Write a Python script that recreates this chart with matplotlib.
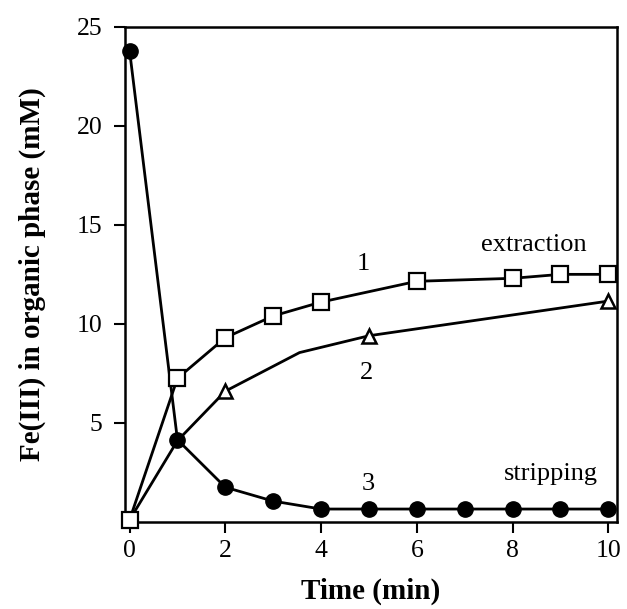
import matplotlib
matplotlib.use("Agg")
import matplotlib.pyplot as plt

# curve 1: extraction (open squares)
time_1 = [0, 1, 2, 3, 4, 6, 8, 9, 10]
fe_1 = [0.1, 7.25, 9.3, 10.4, 11.1, 12.15, 12.3, 12.5, 12.5]

# curve 2: extraction (open triangles), markers only on some points
time_2 = [0, 1, 2, 3.55, 5, 10]
fe_2 = [0.1, 4.1, 6.6, 8.55, 9.4, 11.15]
marked_2 = [2, 4, 5]

# curve 3: stripping (filled circles)
time_3 = [0, 1, 2, 3, 4, 5, 6, 7, 8, 9, 10]
fe_3 = [23.8, 4.15, 1.75, 1.05, 0.65, 0.65, 0.65, 0.65, 0.65, 0.65, 0.65]

x_ticks = [0, 2, 4, 6, 8, 10]
y_ticks = [5, 10, 15, 20, 25]

plt.rcParams['font.family'] = ['Liberation Serif', 'DejaVu Serif']

fig = plt.figure(figsize=(6.27, 6.09), dpi=100)
ax = fig.add_axes([0.199, 0.143, 0.785, 0.813])

ax.plot(time_3, fe_3, color='black', lw=2, marker='o', markersize=11,
        markerfacecolor='black', markeredgecolor='black', zorder=3,
        clip_on=False)
ax.plot(time_2, fe_2, color='black', lw=2, marker='^', markersize=10,
        markerfacecolor='white', markeredgecolor='black', markeredgewidth=1.8,
        markevery=marked_2, zorder=4, clip_on=False)
ax.plot(time_1, fe_1, color='black', lw=2, marker='s', markersize=11,
        markerfacecolor='white', markeredgecolor='black', markeredgewidth=1.6,
        zorder=5, clip_on=False)

ax.text(4.88, 13.0, "1", fontsize=19, ha='center', va='center')
ax.text(4.95, 7.5, "2", fontsize=19, ha='center', va='center')
ax.text(4.98, 1.9, "3", fontsize=19, ha='center', va='center')
ax.text(8.45, 14.0, "extraction", fontsize=19, ha='center', va='center')
ax.text(8.8, 2.4, "stripping", fontsize=19, ha='center', va='center')

ax.set_xlim(-0.1, 10.18)
ax.set_ylim(0, 25)
ax.set_xticks(x_ticks)
ax.set_yticks(y_ticks)
ax.tick_params(direction='out', length=8, width=1.5, labelsize=18.5,
               top=False, right=False)
ax.tick_params(axis='y', pad=8)
ax.tick_params(axis='x', pad=5)
for s in ax.spines.values():
    s.set_linewidth(1.8)

ax.set_xlabel("Time (min)", fontsize=21, fontweight='bold', labelpad=11)
ax.set_ylabel("Fe(III) in organic phase (mM)", fontsize=21, fontweight='bold',
              labelpad=22)

plt.savefig("out.png", dpi=100)
